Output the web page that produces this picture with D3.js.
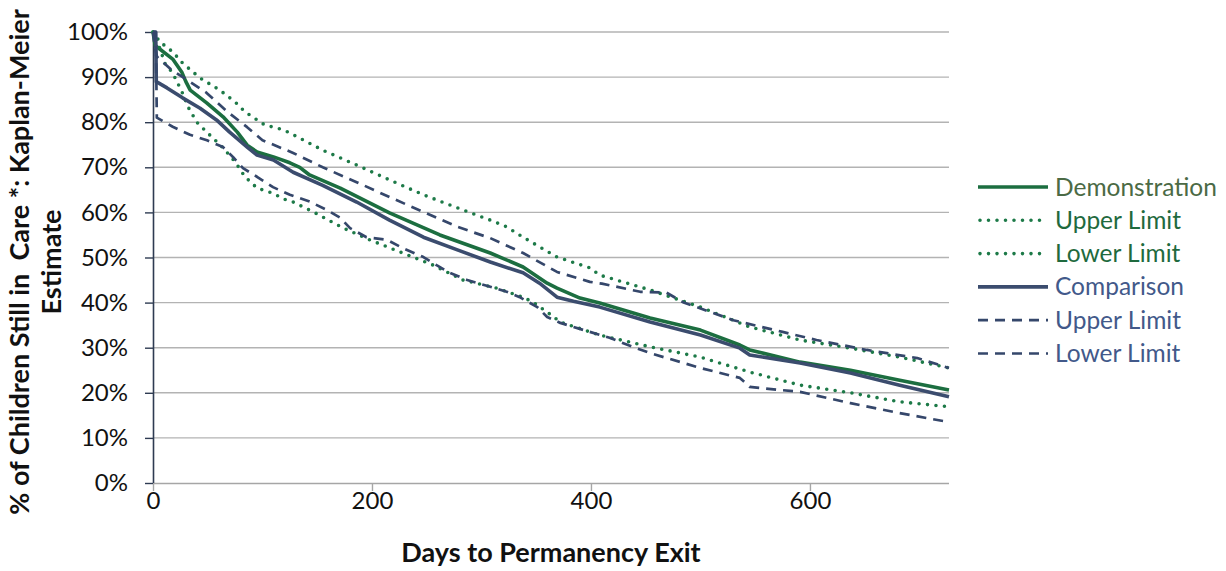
<!DOCTYPE html>
<html>
<head>
<meta charset="utf-8">
<script src="https://cdn.jsdelivr.net/npm/d3@7"></script>
<style>
  html, body { margin: 0; padding: 0; background: #fff; }
  svg { display: block; font-family: Lato, "Open Sans", sans-serif; }
</style>
</head>
<body>
<svg id="chart" width="1226" height="571"></svg>
<script>
// Kaplan-Meier survival estimates: [days, % still in care]
const demonstration = [[0,100],[2,97],[18,94],[26.5,91],[30,89],[34,87.1],[49,84.3],[64,81.2],[77,77.8],[86,74.9],[95,73.4],[110,72.3],[125,71],[134,70],[143,68.3],[171,65.4],[216,59.9],[262,55],[308,51],[338,47.9],[360,44.3],[369,43.2],[390,41],[408,39.9],[454,36.6],[500,33.9],[536,30.6],[545,29.5],[591,26.8],[637,25],[682,22.8],[727,20.6]];
const demoUpper = [[0,100],[6.4,97.8],[18,95.6],[27,93.1],[43,89.8],[61,87.1],[75,84.5],[84,82.3],[102,79.4],[119,78.3],[125,77.6],[155,73.8],[186,70.5],[216,67.2],[247,63.9],[278,61],[308,58.3],[323,56.8],[338,54.5],[369,50.1],[399,47.7],[408,46.1],[454,42.8],[500,39],[545,34.6],[591,31.7],[637,29.9],[682,27.9],[727,25.5]];
const demoLower = [[0,100],[2,99.3],[11,93],[18,90.9],[26.5,86.7],[32,83.4],[40,80],[50,77.6],[64,74.3],[75,71.2],[84,67.9],[95,65.4],[109,64.3],[122,62.7],[128,62.3],[148,59.9],[174,56.5],[198,53.9],[228,51],[256,48.3],[283,45],[314,43.2],[338,41.2],[347,40.1],[360,37.9],[372,35.7],[399,33.5],[408,32.8],[454,30.2],[500,27.9],[545,24.6],[591,21.7],[637,20],[682,18],[727,16.9]];

const comparison = [[0,100],[2.5,100],[3,89],[12.8,87.6],[27,85.4],[43,83.1],[58,80.5],[70,77.8],[86,74.5],[95,72.7],[110,71.6],[128,68.9],[155,66],[186,62.3],[216,58.3],[247,54.5],[278,51.7],[308,49],[338,46.6],[353,44.3],[369,41.2],[384,40.3],[408,39],[454,35.7],[500,32.8],[536,29.9],[545,28.4],[591,26.6],[637,24.4],[682,21.7],[727,19.1]];
const compUpper = [[0,100],[1.5,97],[3.7,94.5],[17,91.6],[31,89.4],[49,86.5],[68,82.3],[86,78.9],[100,76],[127,73.3],[155,70],[186,66.7],[216,63.4],[247,60.1],[278,56.8],[308,54.3],[338,51],[369,46.8],[399,44.6],[410,44.2],[445,42.4],[469,42.2],[484,40.1],[530,36.1],[575,33.5],[606,31.7],[652,29.5],[698,27.7],[727,25.5]];
const compLower = [[0,100],[2.5,100],[3.5,81],[18,79],[33.8,77.2],[49.3,76],[63.9,74.5],[73,72.3],[82.2,69.8],[95,67.9],[109.6,65.6],[125,63.9],[143,62.4],[159,60.5],[171,58.8],[180,56.5],[195,54.5],[214,53.9],[228,52.1],[247,50.1],[259,48.3],[271,46.6],[287,45],[308,43.5],[323,42.4],[335,41.2],[351,39],[360,36.8],[372,35.5],[399,33.5],[417,32.2],[438,30.2],[454,28.8],[500,25.5],[536,23.3],[545,21.3],[591,20.2],[637,17.7],[682,15.5],[727,13.5]];

const xTicks = [0, 200, 400, 600];
const yTicks = [0, 10, 20, 30, 40, 50, 60, 70, 80, 90, 100];
const legendLabels = ["Demonstration", "Upper Limit", "Lower Limit", "Comparison", "Upper Limit", "Lower Limit"];

const GREEN = "#1c6e40", GREEN_DOT = "#1d7a48", BLUE = "#3b4c6e", BLUE_DASH = "#35476b";
const DOTS = "0,8.5", DASHES = "10,7";

const series = [
  { data: demonstration, color: GREEN,     width: 3.6, dash: null,   cap: "butt",  text: "#4b6a45" },
  { data: demoUpper,     color: GREEN_DOT, width: 3.6, dash: DOTS,   cap: "round", text: "#1f6a3e" },
  { data: demoLower,     color: GREEN_DOT, width: 3.6, dash: DOTS,   cap: "round", text: "#1f6a3e" },
  { data: comparison,    color: BLUE,      width: 3.6, dash: null,   cap: "butt",  text: "#42598a" },
  { data: compUpper,     color: BLUE_DASH, width: 2.7, dash: DASHES, cap: "butt",  text: "#42598a" },
  { data: compLower,     color: BLUE_DASH, width: 2.7, dash: DASHES, cap: "butt",  text: "#42598a" }
];

const svg = d3.select("#chart");
const plot = { left: 153, right: 949, top: 32, bottom: 483 };

const x = d3.scaleLinear().domain([0, 727]).range([plot.left, plot.right]);
const y = d3.scaleLinear().domain([0, 100]).range([plot.bottom, plot.top]);

// horizontal gridlines
svg.append("g")
  .selectAll("line")
  .data(yTicks.filter(d => d > 0))
  .join("line")
  .attr("x1", plot.left).attr("x2", plot.right)
  .attr("y1", d => y(d)).attr("y2", d => y(d))
  .attr("stroke", "#b3b3b3").attr("stroke-width", 1.4);

// x axis
const xAxis = svg.append("g")
  .attr("transform", `translate(0,${plot.bottom})`)
  .call(d3.axisBottom(x).tickValues(xTicks).tickSize(8).tickPadding(1).tickFormat(d3.format("d")));
xAxis.select(".domain").attr("stroke", "#a6a6a6").attr("stroke-width", 1.4).attr("d", `M${plot.left},0.5H${plot.right}`);
xAxis.selectAll(".tick line").attr("stroke", "#a6a6a6").attr("stroke-width", 1.4);
xAxis.selectAll(".tick text").attr("font-size", 24).attr("fill", "#111").attr("font-family", "Lato");

// y axis
const yAxis = svg.append("g")
  .attr("transform", `translate(${plot.left},0)`)
  .call(d3.axisLeft(y).tickValues(yTicks).tickSize(8).tickPadding(17).tickFormat(d => d + "%"));
yAxis.select(".domain").attr("stroke", "#2e3b52").attr("stroke-width", 1.6).attr("d", `M0.5,${plot.top}V${plot.bottom}`);
yAxis.selectAll(".tick line").attr("stroke", "#2e3b52").attr("stroke-width", 1.4);
yAxis.selectAll(".tick text").attr("font-size", 24).attr("fill", "#111").attr("font-family", "Lato");

// survival curves
const line = d3.line().x(d => x(d[0])).y(d => y(d[1])).curve(d3.curveLinear);
svg.append("g")
  .selectAll("path")
  .data(series)
  .join("path")
  .attr("d", d => line(d.data))
  .attr("fill", "none")
  .attr("stroke", d => d.color)
  .attr("stroke-width", d => d.width)
  .attr("stroke-dasharray", d => d.dash)
  .attr("stroke-linecap", d => d.cap)
  .attr("stroke-linejoin", "round");

// legend
const legend = svg.append("g").attr("transform", "translate(978,187)");
const row = legend.selectAll("g")
  .data(series)
  .join("g")
  .attr("transform", (d, i) => `translate(0,${i * 33.3})`);
row.append("line")
  .attr("x1", d => d.dash === DOTS ? 2 : 0).attr("x2", 70)
  .attr("y1", 0).attr("y2", 0)
  .attr("stroke", d => d.color)
  .attr("stroke-width", d => d.width)
  .attr("stroke-dasharray", d => d.dash)
  .attr("stroke-linecap", d => d.cap);
row.append("text")
  .attr("x", 77).attr("y", 0).attr("dy", "0.35em")
  .attr("font-size", 24.5)
  .attr("fill", d => d.text)
  .text((d, i) => legendLabels[i]);

// axis titles
svg.append("text")
  .attr("x", (plot.left + plot.right) / 2).attr("y", 562)
  .attr("text-anchor", "middle")
  .attr("font-size", 27).attr("font-weight", "bold").attr("fill", "#111")
  .text("Days to Permanency Exit");

const yTitle = svg.append("text")
  .attr("transform", "translate(0,262) rotate(-90)")
  .attr("text-anchor", "middle")
  .attr("font-size", 27).attr("font-weight", "bold").attr("fill", "#111")
  .style("white-space", "pre");
yTitle.append("tspan").attr("x", 0).attr("y", 29).text("% of Children Still in  Care *: Kaplan-Meier");
yTitle.append("tspan").attr("x", 0).attr("y", 61).text("Estimate");
</script>
</body>
</html>
